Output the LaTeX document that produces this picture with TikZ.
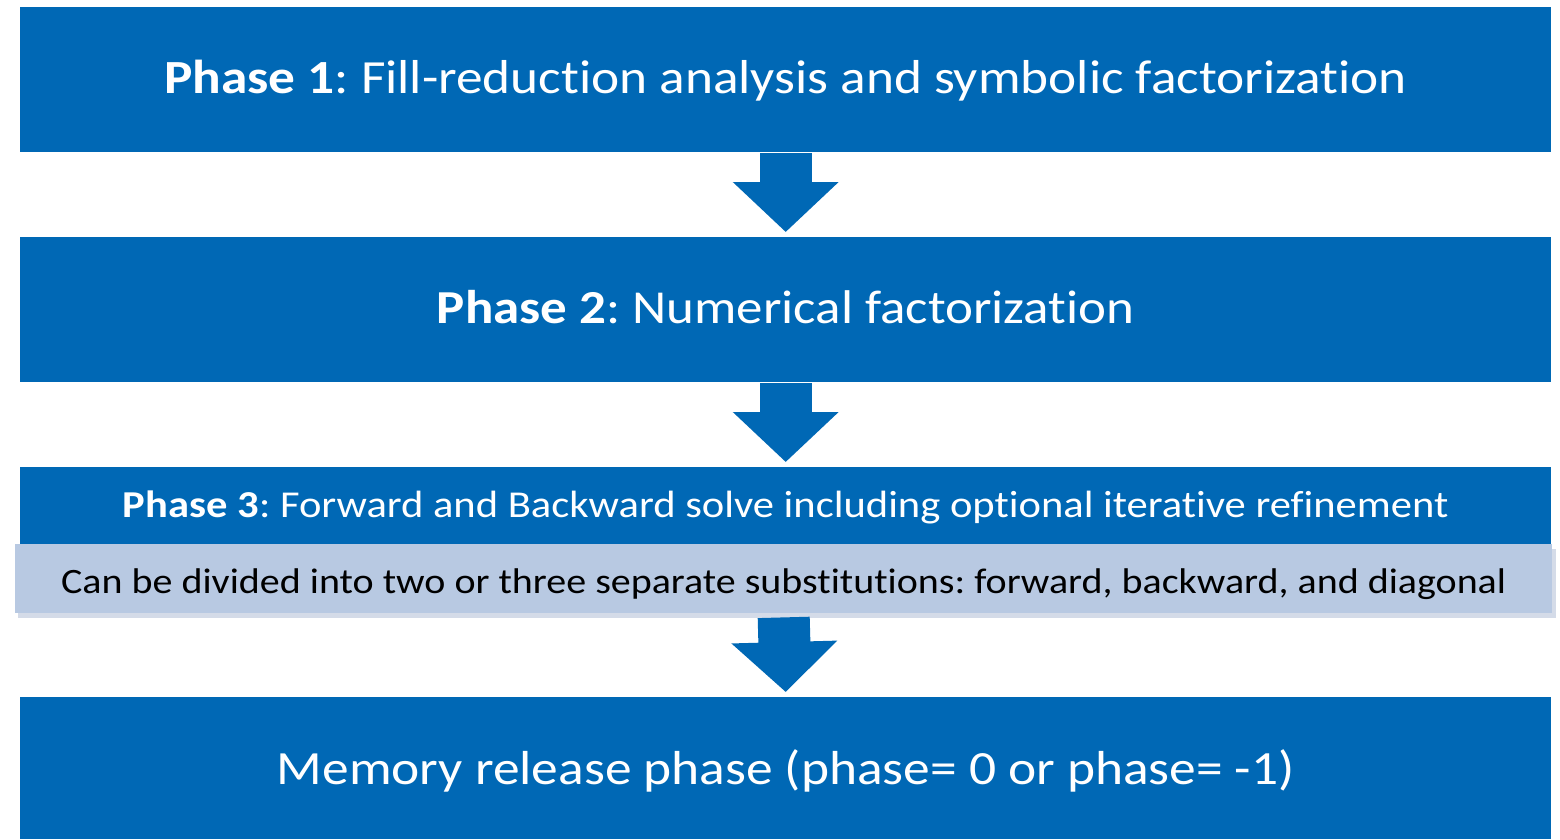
\documentclass[tikz,border=0pt]{standalone}
\usepackage{fontspec}
\setmainfont[Ligatures=NoCommon,FakeStretch=1.12]{Carlito}
\usetikzlibrary{arrows.meta}
\definecolor{dblue}{RGB}{0,104,181}
\definecolor{lblue}{RGB}{184,201,226}
\definecolor{shad}{RGB}{212,219,232}
\frenchspacing
\begin{document}
\begin{tikzpicture}[x=1pt,y=-1pt,
  phasebox/.style={fill=dblue, text=white, inner sep=0pt, anchor=north west, minimum width=1531pt},
  subbox/.style={fill=lblue, text=black, inner sep=0pt, anchor=north west, minimum width=1537pt, minimum height=69pt},
  bigarrow/.style={draw=dblue, line width=52pt, line cap=butt, -{Triangle[width=103pt,length=50pt,fill=dblue]}}]
\useasboundingbox (0,0) rectangle (1560,839);
\node[phasebox, minimum height=145pt, text height=35pt, text depth=8pt, font=\fontsize{47.6}{55}\selectfont] (p1) at (20,7)
  {\textbf{Phase 1}: Fill-reduction analysis and symbolic factorization};
\node[phasebox, minimum height=145pt, text height=35pt, text depth=8pt, font=\fontsize{47.3}{55}\selectfont] (p2) at (20,237)
  {\textbf{Phase 2}: Numerical factorization};
\node[phasebox, minimum height=77pt, text height=30pt, text depth=7pt, font=\fontsize{38}{45}\selectfont] (p3) at (20,467)
  {\textbf{Phase 3}: Forward and Backward solve including optional iterative refinement};
\fill[shad] (18,549) rectangle (1556,618);
\node[subbox, text height=34pt, text depth=5pt, font=\fontsize{35.7}{43}\selectfont] (sub) at (15,544)
  {Can be divided into two or three separate substitutions: forward, backward, and diagonal};
\node[phasebox, minimum height=142pt, text height=38pt, text depth=6pt, font=\fontsize{47.7}{55}\selectfont] (p4) at (20,697)
  {Memory release phase (phase= 0 or phase= -1)};
\draw[bigarrow] ([yshift=-1pt]p1.south) -- ([yshift=5pt]p2.north);
\draw[bigarrow] ([yshift=-1pt]p2.south) -- ([yshift=5pt]p3.north);
\draw[bigarrow] ([yshift=-4pt]sub.south) -- ([yshift=5pt]p4.north);
\end{tikzpicture}
\end{document}
